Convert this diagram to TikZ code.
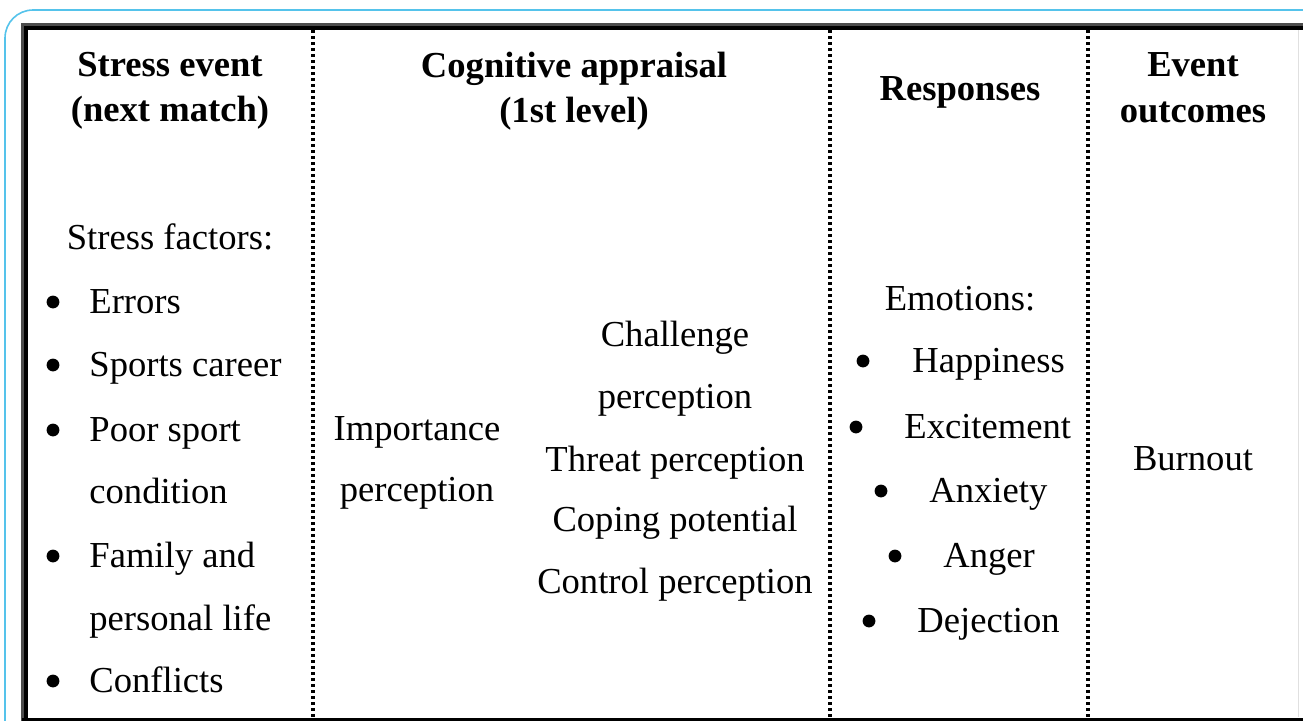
\documentclass[tikz,border=0pt]{standalone}
\usepackage{fontspec}
\setmainfont{Liberation Serif}
\usetikzlibrary{positioning}
\definecolor{framecyan}{RGB}{85,195,235}

\begin{document}
\begin{tikzpicture}[x=0.5pt,y=-0.5pt,
    txt/.style={inner sep=0pt,anchor=base,font=\fontsize{18.3}{22}\selectfont},
    hd/.style={txt,font=\fontsize{18.3}{22}\selectfont\bfseries},
    lft/.style={txt,anchor=base west},
    dot/.style={circle,fill=black,inner sep=0pt,minimum size=6.4pt},
    sep/.style={line width=2pt,dash pattern=on 1.5pt off 1.5pt}]
    \useasboundingbox (0,0) rectangle (1303,720);
    % frame round the table
    \draw[framecyan,line width=0.8pt,rounded corners=14pt] (5,760) -- (5,10) -- (1340,10);
    \draw[black!70,line width=1.5pt] (22.5,760) -- (22.5,24.5) -- (1340,24.5);
    \draw[black,line width=2pt] (26,760) -- (26,28) -- (1340,28);
    \draw[black,line width=2pt] (22,719.5) -- (1340,719.5);
    \draw[black!12,line width=0.5pt] (1298,30) -- (1298,717);
    % column separators
    \draw[sep] (313,30) -- (313,717);
    \draw[sep] (830,30) -- (830,717);
    \draw[sep] (1088,30) -- (1088,717);
    % headers
    \node[hd] (stress1) at (170,76) {Stress event};
    \node[hd] (stress2) at (170,121) {(next match)};
    \node[hd] (cog1) at (574,77) {Cognitive appraisal};
    \node[hd] (cog2) at (574,122) {(1st level)};
    \node[hd] (resp) at (960,100) {Responses};
    \node[hd] (out1) at (1193,76) {Event};
    \node[hd] (out2) at (1193,122) {outcomes};
    % stress factors
    \node[txt] (factors) at (170,249) {Stress factors:};
    \node[dot] (b1) at (53,302) {};
    \node[lft] (errors) at (89,313) {Errors};
    \node[dot] (b2) at (53,365) {};
    \node[lft] (career) at (89,376) {Sports career};
    \node[dot] (b3) at (53,430) {};
    \node[lft] (poor) at (89,441) {Poor sport};
    \node[lft] (cond) at (89,503) {condition};
    \node[dot] (b4) at (53,556) {};
    \node[lft] (family) at (89,567) {Family and};
    \node[lft] (life) at (89,630) {personal life};
    \node[dot] (b5) at (53,681) {};
    \node[lft] (confl) at (89,692) {Conflicts};
    % appraisal
    \node[txt] (imp1) at (417,440) {Importance};
    \node[txt] (imp2) at (417,501) {perception};
    \node[txt] (chal1) at (675,346) {Challenge};
    \node[txt] (chal2) at (675,408) {perception};
    \node[txt] (threat) at (675,471) {Threat perception};
    \node[txt] (coping) at (675,531) {Coping potential};
    \node[txt] (control) at (675,593) {Control perception};
    % emotions
    \node[txt] (emot) at (960,310) {Emotions:};
    \node[dot] (e1) at (863,361) {};
    \node[lft] (happy) at (912,372) {Happiness};
    \node[dot] (e2) at (856,427) {};
    \node[lft] (excite) at (904,438) {Excitement};
    \node[dot] (e3) at (881,491) {};
    \node[lft] (anx) at (929,502) {Anxiety};
    \node[dot] (e4) at (895,556) {};
    \node[lft] (anger) at (943,567) {Anger};
    \node[dot] (e5) at (869,621) {};
    \node[lft] (deject) at (917,632) {Dejection};
    % outcome
    \node[txt] (burn) at (1193,470) {Burnout};
\end{tikzpicture}
\end{document}
